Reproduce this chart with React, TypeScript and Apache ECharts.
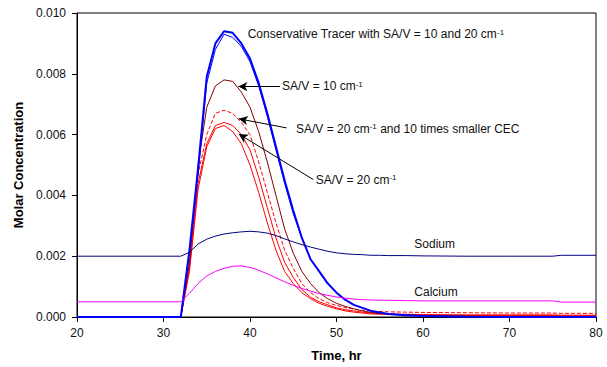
import React, { useEffect, useRef } from "react";
import * as echarts from "echarts";

const times = [20, 32, 33, 34, 35, 36, 37, 38, 39, 40, 41, 42, 43, 44, 45, 46, 47, 48, 49, 50, 51, 52, 53, 54, 55, 56, 58, 60, 65, 70, 75, 76, 80];

const tracerA = [0, 0, 0.0022, 0.0049, 0.0079, 0.009, 0.0094, 0.00935, 0.009, 0.0085, 0.0077, 0.0067, 0.0056, 0.0045, 0.0035, 0.0026, 0.0019, 0.0015, 0.0011, 0.0008, 0.00057, 0.0004, 0.0003, 0.0002, 0.00015, 0.0001, 0.00006, 0.00003, 0.00001, 0, 0, 0, 0];
const tracerB = [0, 0, 0.0021, 0.0047, 0.0077, 0.0088, 0.0093, 0.0092, 0.0089, 0.0084, 0.0076, 0.0066, 0.0055, 0.0044, 0.0034, 0.0026, 0.0019, 0.0015, 0.0011, 0.0008, 0.00057, 0.0004, 0.0003, 0.0002, 0.00015, 0.0001, 0.00006, 0.00003, 0.00001, 0, 0, 0, 0];
const sav10 = [0, 0, 0.0018, 0.005, 0.0069, 0.0076, 0.0078, 0.00775, 0.0074, 0.0069, 0.0061, 0.0051, 0.004, 0.0029, 0.0021, 0.0015, 0.0011, 0.0008, 0.0006, 0.00045, 0.00035, 0.00027, 0.0002, 0.00015, 0.00012, 0.0001, 0.00007, 0.00005, 0.00003, 0.00002, 0.00002, 0.00002, 0.00002];
const sav20SmallCec = [0, 0, 0.0017, 0.0047, 0.006, 0.0067, 0.0068, 0.0067, 0.0064, 0.006, 0.0051, 0.0041, 0.0031, 0.0022, 0.0016, 0.0011, 0.0008, 0.0006, 0.00047, 0.00038, 0.00031, 0.00026, 0.00022, 0.0002, 0.00018, 0.00017, 0.00016, 0.00015, 0.00014, 0.00013, 0.00013, 0.00012, 0.00012];
const sav20 = [0, 0, 0.0016, 0.0044, 0.0057, 0.0063, 0.0064, 0.0063, 0.006, 0.0055, 0.0046, 0.0036, 0.0026, 0.0018, 0.0013, 0.0009, 0.00065, 0.0005, 0.0004, 0.0003, 0.00024, 0.0002, 0.00016, 0.00013, 0.00011, 0.0001, 0.00009, 0.00008, 0.00007, 0.00007, 0.00007, 0.00006, 0.00006];
const sav20b = [0, 0, 0.0015, 0.0042, 0.0056, 0.0062, 0.0063, 0.0061, 0.0057, 0.005, 0.0041, 0.0031, 0.0022, 0.0015, 0.0011, 0.0008, 0.0006, 0.00045, 0.00035, 0.00027, 0.0002, 0.00016, 0.00013, 0.0001, 0.00009, 0.00008, 0.00007, 0.00006, 0.00005, 0.00005, 0.00005, 0.00004, 0.00004];
const sodium = [0.002, 0.002, 0.00213, 0.0024, 0.00256, 0.00266, 0.00273, 0.00277, 0.0028, 0.00282, 0.0028, 0.00276, 0.00268, 0.00257, 0.00247, 0.00238, 0.0023, 0.00223, 0.00216, 0.00211, 0.00208, 0.00206, 0.00205, 0.00203, 0.00203, 0.00202, 0.00202, 0.00201, 0.002, 0.002, 0.002, 0.00203, 0.00203];
const calcium = [0.0005, 0.0005, 0.00078, 0.0011, 0.00135, 0.0015, 0.0016, 0.00167, 0.00168, 0.00163, 0.00154, 0.00142, 0.00129, 0.00116, 0.00104, 0.00094, 0.00085, 0.00077, 0.00071, 0.00066, 0.00062, 0.00059, 0.00057, 0.00056, 0.00055, 0.00055, 0.00054, 0.00053, 0.00053, 0.00053, 0.00053, 0.00049, 0.00049];

const xTicks = { min: 20, max: 80, interval: 10 };
const yTicks = { min: 0, max: 0.01, interval: 0.002 };

// arrows in data coordinates: [fromTime, fromConc] -> [toTime, toConc]
const arrows = [
  { from: [43.47, 0.00758], to: [38.65, 0.00758] },
  { from: [44.24, 0.00622], to: [38.7, 0.00652] },
  { from: [47.32, 0.00452], to: [38.7, 0.00602] },
];

const FONT = "'Liberation Sans', Arial, sans-serif";

export default function App() {
  const ref = useRef<HTMLDivElement>(null);
  useEffect(() => {
    const chart = echarts.init(ref.current!, null, { renderer: "svg" });
    const pair = (vals: number[]) => times.map((t, i) => [t, vals[i]]);
    const line = (name: string, vals: number[], color: string, width: number, type: string = "solid", extra: any = {}) => ({
      type: "line",
      name,
      data: pair(vals),
      symbol: "none",
      silent: true,
      lineStyle: { color, width, type },
      itemStyle: { color },
      emphasis: { disabled: true },
      ...extra,
    });
    const label = (x: number, y: number, text: string) => ({
      type: "text",
      x,
      y,
      silent: true,
      style: {
        text,
        fontSize: 12,
        fontFamily: FONT,
        fill: "#111",
        align: "left",
        verticalAlign: "middle",
        rich: {
          sup: { fontSize: 8, fontFamily: FONT, fill: "#111", verticalAlign: "top" },
        },
      },
    });
    chart.setOption({
      animation: false,
      backgroundColor: "#fff",
      grid: { left: 77, right: 11, top: 13, bottom: 49, show: true, borderColor: "#000", borderWidth: 1, backgroundColor: "transparent" },
      xAxis: {
        type: "value",
        ...xTicks,
        axisLine: { show: true, lineStyle: { color: "#000", width: 1 } },
        axisTick: { show: true, length: 5, lineStyle: { color: "#000" } },
        axisLabel: { color: "#111", fontSize: 12, fontFamily: FONT, margin: 10 },
        splitLine: { show: false },
        name: "Time, hr",
        nameLocation: "middle",
        nameGap: 32,
        nameTextStyle: { fontWeight: "bold", fontSize: 13, color: "#000", fontFamily: FONT },
      },
      yAxis: {
        type: "value",
        ...yTicks,
        axisLine: { show: true, lineStyle: { color: "#000", width: 1 } },
        axisTick: { show: true, length: 5, lineStyle: { color: "#000" } },
        axisLabel: { color: "#111", fontSize: 12, fontFamily: FONT, margin: 11, formatter: (v: number) => v.toFixed(3) },
        splitLine: { show: false },
        name: "Molar Concentration",
        nameLocation: "middle",
        nameGap: 52,
        nameTextStyle: { fontWeight: "bold", fontSize: 13, color: "#000", fontFamily: FONT },
      },
      graphic: [
        label(247.7, 34, "Conservative Tracer with SA/V = 10 and 20 cm{sup|-1}"),
        label(282, 86, "SA/V = 10 cm{sup|-1}"),
        label(296, 128.5, "SA/V = 20 cm{sup|-1} and 10 times smaller CEC"),
        label(315.7, 179.5, "SA/V = 20 cm{sup|-1}"),
        label(414.3, 243.5, "Sodium"),
        label(414.3, 291.5, "Calcium"),
      ],
      series: [
        line("SA/V = 20 (b)", sav20b, "#FF0000", 1),
        line("SA/V = 20", sav20, "#FF0000", 1),
        line("SA/V = 20, smaller CEC", sav20SmallCec, "#FF0000", 1, "dashed"),
        line("SA/V = 10", sav10, "#800000", 1),
        line("Tracer B", tracerB, "#0000FF", 1),
        line("Tracer A", tracerA, "#0000FF", 2),
        line("Sodium", sodium, "#000080", 1),
        line("Calcium", calcium, "#FF00FF", 1, "solid", {
          markLine: {
            silent: true,
            symbol: ["none", "arrow"],
            symbolSize: [7, 9],
            label: { show: false },
            emphasis: { disabled: true },
            lineStyle: { color: "#000", width: 1, type: "solid" },
            data: arrows.map((a) => [{ coord: a.from }, { coord: a.to }]),
          },
        }),
      ],
    });
    return () => chart.dispose();
  }, []);
  return <div ref={ref} style={{ position: "fixed", left: 0, top: 0, width: 607, height: 367 }} />;
}
